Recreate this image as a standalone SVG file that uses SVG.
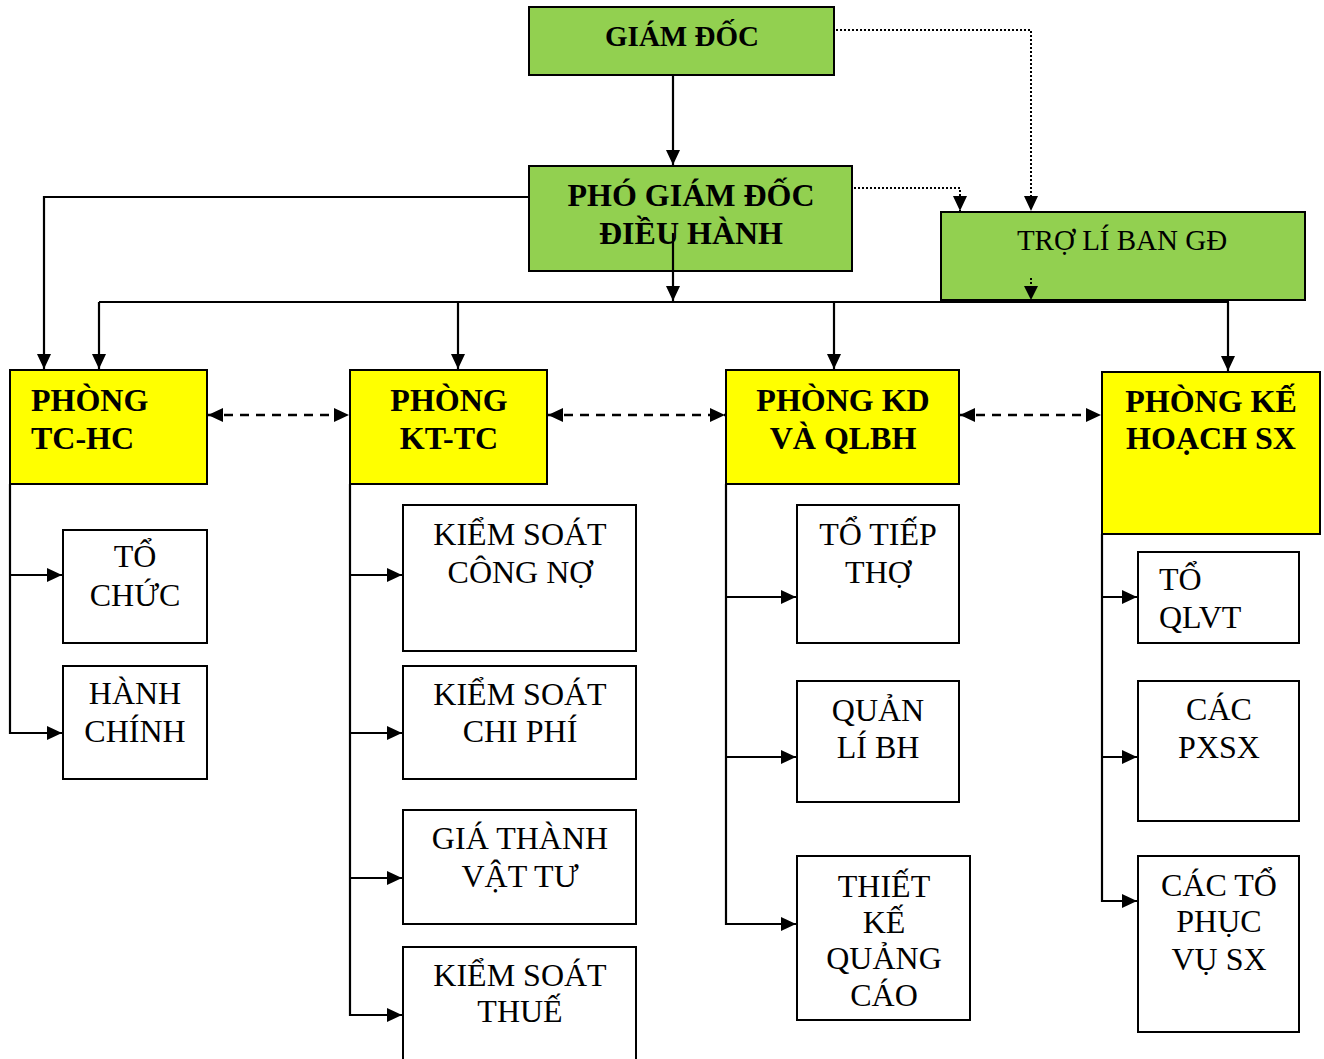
<svg xmlns="http://www.w3.org/2000/svg" width="1324" height="1059" viewBox="0 0 1324 1059" font-family="Liberation Serif, Times New Roman, serif">
  <style>
    text { fill: #000; }
    .b { font-weight: bold; font-size: 32px; }
    .r { font-size: 32px; }
    .c { text-anchor: middle; }
    .green { fill: #92d050; stroke: #000; stroke-width: 2; }
    .yellow { fill: #ffff00; stroke: #000; stroke-width: 2; }
    .white { fill: #fff; stroke: #000; stroke-width: 2; }
    .ln { fill: none; stroke: #000; stroke-width: 2.2; }
    .dot { fill: none; stroke: #000; stroke-width: 2; stroke-dasharray: 2 2; }
    .dash { fill: none; stroke: #000; stroke-width: 2.5; stroke-dasharray: 9 7; }
  </style>
  <defs>
    <marker id="arr" markerUnits="userSpaceOnUse" markerWidth="16" markerHeight="14" refX="15" refY="7" orient="auto-start-reverse">
      <path d="M0,0 L15,7 L0,14 z" fill="#000"/>
    </marker>
  </defs>
  <rect width="1324" height="1059" fill="#fff"/>

  <!-- connectors -->
  <g id="connectors">
    <!-- director chain -->
    <line class="ln" x1="673" y1="75" x2="673" y2="165" marker-end="url(#arr)"/>
    <polyline class="ln" points="529,197 44,197 44,369" marker-end="url(#arr)"/>
    <line class="ln" x1="99" y1="302" x2="1229" y2="302"/>
    <line class="ln" x1="99" y1="302" x2="99" y2="369" marker-end="url(#arr)"/>
    <line class="ln" x1="458" y1="302" x2="458" y2="369" marker-end="url(#arr)"/>
    <line class="ln" x1="834" y1="302" x2="834" y2="369" marker-end="url(#arr)"/>
    <line class="ln" x1="1228" y1="302" x2="1228" y2="371" marker-end="url(#arr)"/>
    <!-- dotted advisory links -->
    <polyline class="dot" points="836,30 1031,30 1031,211" marker-end="url(#arr)"/>
    <polyline class="dot" points="854,188 960,188 960,211" marker-end="url(#arr)"/>
    <!-- dashed links between departments -->
    <line class="dash" x1="208" y1="415" x2="349" y2="415" marker-start="url(#arr)" marker-end="url(#arr)"/>
    <line class="dash" x1="548" y1="415" x2="725" y2="415" marker-start="url(#arr)" marker-end="url(#arr)"/>
    <line class="dash" x1="960" y1="415" x2="1101" y2="415" marker-start="url(#arr)" marker-end="url(#arr)"/>
    <!-- TC-HC branch -->
    <polyline class="ln" points="10,484 10,733 62,733" marker-end="url(#arr)"/>
    <line class="ln" x1="10" y1="575" x2="62" y2="575" marker-end="url(#arr)"/>
    <!-- KT-TC branch -->
    <polyline class="ln" points="350,484 350,1015 402,1015" marker-end="url(#arr)"/>
    <line class="ln" x1="350" y1="575" x2="402" y2="575" marker-end="url(#arr)"/>
    <line class="ln" x1="350" y1="733" x2="402" y2="733" marker-end="url(#arr)"/>
    <line class="ln" x1="350" y1="878" x2="402" y2="878" marker-end="url(#arr)"/>
    <!-- KD branch -->
    <polyline class="ln" points="726,484 726,924 796,924" marker-end="url(#arr)"/>
    <line class="ln" x1="726" y1="597" x2="796" y2="597" marker-end="url(#arr)"/>
    <line class="ln" x1="726" y1="757" x2="796" y2="757" marker-end="url(#arr)"/>
    <!-- KH SX branch -->
    <polyline class="ln" points="1102,534 1102,901 1137,901" marker-end="url(#arr)"/>
    <line class="ln" x1="1102" y1="597" x2="1137" y2="597" marker-end="url(#arr)"/>
    <line class="ln" x1="1102" y1="757" x2="1137" y2="757" marker-end="url(#arr)"/>
  </g>

  <!-- management -->
  <g id="giam-doc">
    <rect class="green" x="529" y="7" width="305" height="68"/>
    <text class="b c" x="682" y="46" style="font-size:29px">GIÁM ĐỐC</text>
  </g>
  <g id="pho-giam-doc">
    <rect class="green" x="529" y="166" width="323" height="105"/>
    <text class="b c" x="691" y="206">PHÓ GIÁM ĐỐC</text>
    <text class="b c" x="691" y="244">ĐIỀU HÀNH</text>
  </g>
  <!-- stem from the deputy box down to the department bus -->
  <line class="ln" x1="673" y1="233" x2="673" y2="301" marker-end="url(#arr)"/>
  <g id="tro-li">
    <rect class="green" x="941" y="212" width="364" height="88"/>
    <text class="c" x="1122" y="250" style="font-size:29px">TRỢ LÍ BAN GĐ</text>
  </g>
  <line class="dot" x1="1031" y1="278" x2="1031" y2="287"/>
  <path d="M1024,286 L1031,300 L1038,286 z" fill="#000"/>

  <!-- departments -->
  <g id="phong-tchc">
    <rect class="yellow" x="10" y="370" width="197" height="114"/>
    <text class="b" x="31" y="411">PHÒNG</text>
    <text class="b" x="31" y="449">TC-HC</text>
  </g>
  <g id="phong-kttc">
    <rect class="yellow" x="350" y="370" width="197" height="114"/>
    <text class="b c" x="449" y="411">PHÒNG</text>
    <text class="b c" x="449" y="449">KT-TC</text>
  </g>
  <g id="phong-kd">
    <rect class="yellow" x="726" y="370" width="233" height="114"/>
    <text class="b c" x="843" y="411">PHÒNG KD</text>
    <text class="b c" x="843" y="449">VÀ QLBH</text>
  </g>
  <g id="phong-khsx">
    <rect class="yellow" x="1102" y="372" width="218" height="162"/>
    <text class="b c" x="1211" y="412">PHÒNG KẾ</text>
    <text class="b c" x="1211" y="449">HOẠCH SX</text>
  </g>

  <!-- TC-HC units -->
  <g id="to-chuc">
    <rect class="white" x="63" y="530" width="144" height="113"/>
    <text class="r c" x="135" y="567">TỔ</text>
    <text class="r c" x="135" y="606">CHỨC</text>
  </g>
  <g id="hanh-chinh">
    <rect class="white" x="63" y="666" width="144" height="113"/>
    <text class="r c" x="135" y="704">HÀNH</text>
    <text class="r c" x="135" y="742">CHÍNH</text>
  </g>

  <!-- KT-TC units -->
  <g id="ks-cong-no">
    <rect class="white" x="403" y="505" width="233" height="146"/>
    <text class="r c" x="520" y="545">KIỂM SOÁT</text>
    <text class="r c" x="520" y="583">CÔNG NỢ</text>
  </g>
  <g id="ks-chi-phi">
    <rect class="white" x="403" y="666" width="233" height="113"/>
    <text class="r c" x="520" y="705">KIỂM SOÁT</text>
    <text class="r c" x="520" y="742">CHI PHÍ</text>
  </g>
  <g id="gia-thanh">
    <rect class="white" x="403" y="810" width="233" height="114"/>
    <text class="r c" x="520" y="849">GIÁ THÀNH</text>
    <text class="r c" x="520" y="887">VẬT TƯ</text>
  </g>
  <g id="ks-thue">
    <rect class="white" x="403" y="947" width="233" height="120"/>
    <text class="r c" x="520" y="986">KIỂM SOÁT</text>
    <text class="r c" x="520" y="1022">THUẾ</text>
  </g>

  <!-- KD units -->
  <g id="to-tiep-tho">
    <rect class="white" x="797" y="505" width="162" height="138"/>
    <text class="r c" x="878" y="545">TỔ TIẾP</text>
    <text class="r c" x="878" y="583">THỢ</text>
  </g>
  <g id="quan-li-bh">
    <rect class="white" x="797" y="681" width="162" height="121"/>
    <text class="r c" x="878" y="721">QUẢN</text>
    <text class="r c" x="878" y="758">LÍ BH</text>
  </g>
  <g id="thiet-ke-qc">
    <rect class="white" x="797" y="856" width="173" height="164"/>
    <text class="r c" x="884" y="897">THIẾT</text>
    <text class="r c" x="884" y="933">KẾ</text>
    <text class="r c" x="884" y="969">QUẢNG</text>
    <text class="r c" x="884" y="1006">CÁO</text>
  </g>

  <!-- KH SX units -->
  <g id="to-qlvt">
    <rect class="white" x="1138" y="552" width="161" height="91"/>
    <text class="r" x="1159" y="590">TỔ</text>
    <text class="r" x="1159" y="628">QLVT</text>
  </g>
  <g id="cac-pxsx">
    <rect class="white" x="1138" y="681" width="161" height="140"/>
    <text class="r c" x="1219" y="720">CÁC</text>
    <text class="r c" x="1219" y="758">PXSX</text>
  </g>
  <g id="cac-to-phuc-vu">
    <rect class="white" x="1138" y="856" width="161" height="176"/>
    <text class="r c" x="1219" y="896">CÁC TỔ</text>
    <text class="r c" x="1219" y="932">PHỤC</text>
    <text class="r c" x="1219" y="970">VỤ SX</text>
  </g>
</svg>
